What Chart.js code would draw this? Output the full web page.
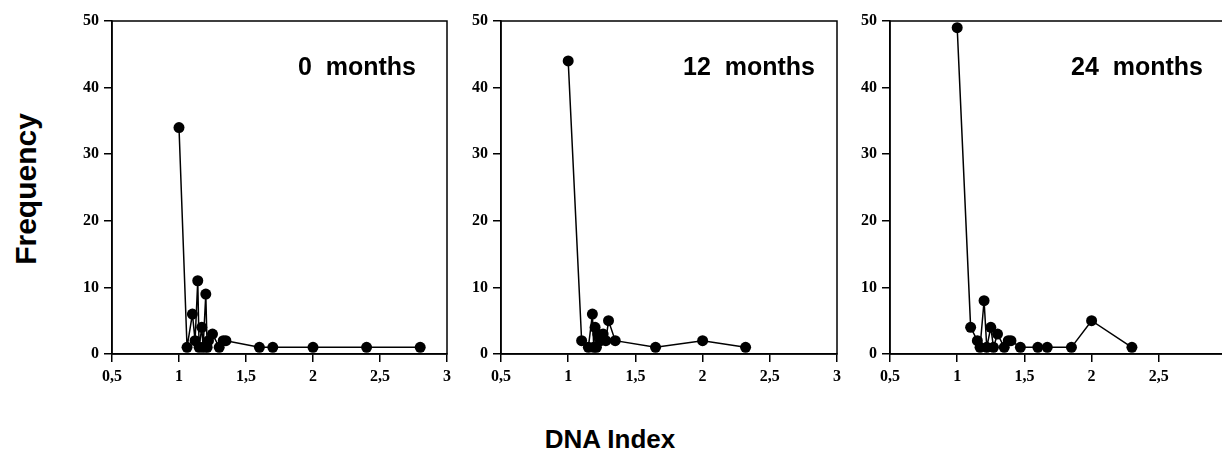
<!DOCTYPE html>
<html>
<head>
<meta charset="utf-8">
<script src="https://cdn.jsdelivr.net/npm/chart.js@4.4.1/dist/chart.umd.min.js"></script>
<style>
  html, body { margin: 0; padding: 0; background: #fff; width: 1222px; height: 475px; overflow: hidden; position: relative; }
  .pc { position: absolute; top: 0; }
  .lbl { position: absolute; font-family: "Liberation Sans", Arial, sans-serif; font-weight: bold; color: #000; white-space: pre; }
</style>
</head>
<body>
<div class="pc" style="left:52px;width:415px;height:400px"><canvas id="c0"></canvas></div>
<div class="pc" style="left:441px;width:416px;height:400px"><canvas id="c1"></canvas></div>
<div class="pc" style="left:830px;width:416px;height:400px"><canvas id="c2"></canvas></div>
<div class="lbl" style="left:-74px;top:171px;width:200px;text-align:center;font-size:30px;line-height:36px;transform:rotate(-90deg);">Frequency</div>
<div class="lbl" style="left:510px;top:423px;width:200px;text-align:center;font-size:26px;line-height:32px;">DNA Index</div>
<script>
// ---- data ----
const panelTitles = ["0  months", "12  months", "24  months"];
const xTicks = [0.5, 1, 1.5, 2, 2.5, 3];
const yTicks = [0, 10, 20, 30, 40, 50];

const dna0  = [1.0, 1.06, 1.1, 1.12, 1.14, 1.15, 1.17, 1.18, 1.2, 1.21, 1.22, 1.25, 1.3, 1.33, 1.35, 1.6, 1.7, 2.0, 2.4, 2.8];
const freq0 = [34, 1, 6, 2, 11, 1, 4, 1, 9, 1, 2, 3, 1, 2, 2, 1, 1, 1, 1, 1];

const dna12  = [1.0, 1.1, 1.15, 1.18, 1.19, 1.2, 1.21, 1.22, 1.24, 1.26, 1.28, 1.3, 1.35, 1.65, 2.0, 2.32];
const freq12 = [44, 2, 1, 6, 1, 4, 1, 3, 2, 3, 2, 5, 2, 1, 2, 1];

const dna24  = [1.0, 1.1, 1.15, 1.17, 1.2, 1.22, 1.25, 1.27, 1.3, 1.35, 1.38, 1.4, 1.47, 1.6, 1.67, 1.85, 2.0, 2.3];
const freq24 = [49, 4, 2, 1, 8, 1, 4, 1, 3, 1, 2, 2, 1, 1, 1, 1, 5, 1];

const panels = [
  { id: "c0", x: dna0,  y: freq0,  title: panelTitles[0], titleRight: 31 },
  { id: "c1", x: dna12, y: freq12, title: panelTitles[1], titleRight: 22 },
  { id: "c2", x: dna24, y: freq24, title: panelTitles[2], titleRight: 23 }
];

const framePlugin = {
  id: "frame",
  afterDraw(chart) {
    const a = chart.chartArea, ctx = chart.ctx;
    ctx.save();
    ctx.strokeStyle = "#000";
    ctx.lineWidth = 1.5;
    ctx.strokeRect(a.left, a.top, a.right - a.left, a.bottom - a.top);
    const t = chart.options.plugins.panelTitle;
    ctx.fillStyle = "#000";
    ctx.font = "bold 25px 'Liberation Sans', Arial, sans-serif";
    ctx.textAlign = "right";
    ctx.textBaseline = "middle";
    ctx.fillText(t.text, a.right - t.right, a.top + 47);
    ctx.restore();
  }
};

const tickFont = { family: "'Liberation Serif', 'Times New Roman', serif", weight: "bold", size: 16 };

panels.forEach(p => {
  const pts = p.x.map((v, i) => ({ x: v, y: p.y[i] }));
  new Chart(document.getElementById(p.id), {
    type: "line",
    data: { datasets: [{
      data: pts,
      borderColor: "#000",
      borderWidth: 1.5,
      backgroundColor: "#000",
      pointBackgroundColor: "#000",
      pointBorderColor: "#000",
      pointRadius: 5.5,
      pointBorderWidth: 0,
      tension: 0,
      clip: false
    }]},
    options: {
      responsive: true,
      maintainAspectRatio: false,
      animation: false,
      events: [],
      layout: { padding: { left: 0, top: 21, right: 20, bottom: 0 } },
      plugins: {
        legend: { display: false },
        tooltip: { enabled: false },
        panelTitle: { text: p.title, right: p.titleRight }
      },
      scales: {
        x: {
          type: "linear",
          min: xTicks[0], max: xTicks[xTicks.length - 1],
          afterBuildTicks: s => { s.ticks = xTicks.map(v => ({ value: v })); },
          afterFit: s => { s.height = 46; },
          grid: { display: true, drawOnChartArea: false, drawTicks: true, tickLength: 8, color: "#000", lineWidth: 1.5 },
          border: { display: true, color: "#000", width: 1.5 },
          ticks: {
            color: "#000", font: tickFont, padding: 5, maxRotation: 0, autoSkip: false,
            callback: v => String(v).replace(".", ",")
          }
        },
        y: {
          type: "linear",
          min: yTicks[0], max: yTicks[yTicks.length - 1],
          afterBuildTicks: s => { s.ticks = yTicks.map(v => ({ value: v })); },
          afterFit: s => { s.width = 60; },
          grid: { display: true, drawOnChartArea: false, drawTicks: true, tickLength: 8, color: "#000", lineWidth: 1.5 },
          border: { display: true, color: "#000", width: 1.5 },
          ticks: { color: "#000", font: tickFont, padding: 5, autoSkip: false }
        }
      }
    },
    plugins: [framePlugin]
  });
});
</script>
</body>
</html>
